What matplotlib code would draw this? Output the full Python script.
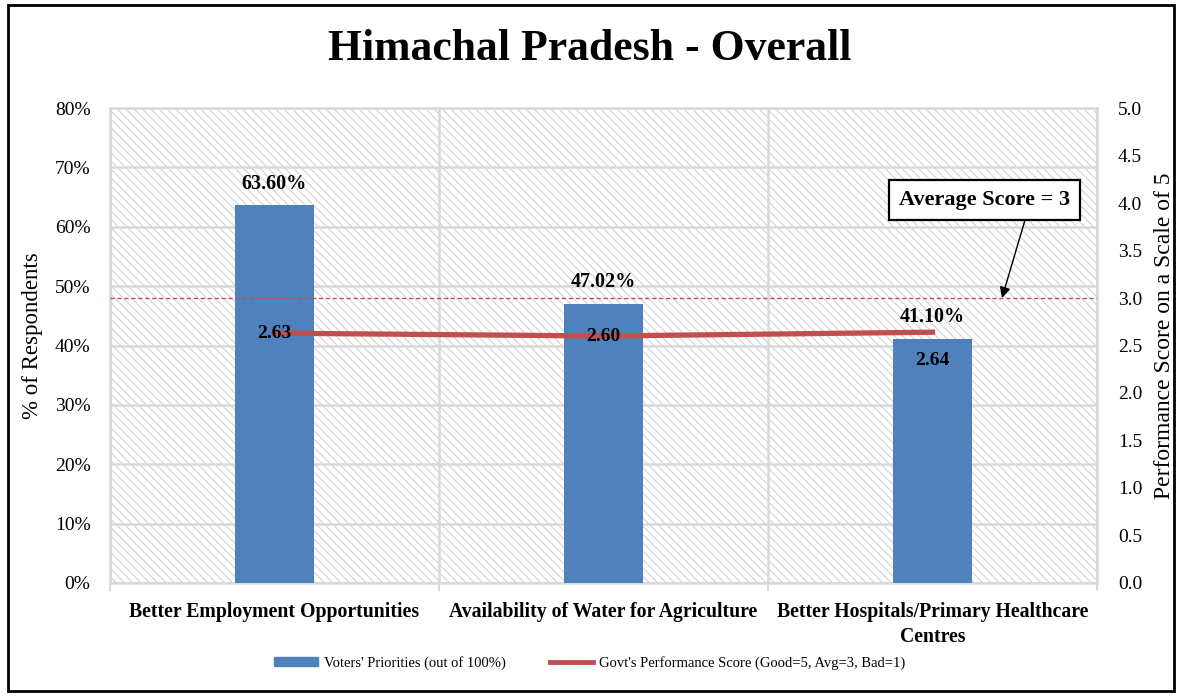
import matplotlib.pyplot as plt
import numpy as np
from matplotlib.patches import Rectangle
from matplotlib.lines import Line2D
from matplotlib.patches import Patch

categories = ['Better Employment Opportunities',
              'Availability of Water for Agriculture',
              'Better Hospitals/Primary Healthcare\nCentres']
priorities = [63.60, 47.02, 41.10]
scores = [2.63, 2.60, 2.64]
avg_score = 3.0

plt.rcParams['font.family'] = ['Liberation Serif', 'DejaVu Serif']
plt.rcParams['hatch.color'] = '#d2d2d2'
plt.rcParams['hatch.linewidth'] = 0.8

fig = plt.figure(figsize=(11.8, 6.97), dpi=100)
ax = fig.add_axes([0.0932, 0.1636, 0.8365, 0.6814])
ax2 = ax.twinx()

x = np.arange(len(categories))
blue = '#4f81bd'
red = '#c0504d'
grid = '#d9d9d9'

# hatched background
ax.add_patch(Rectangle((0, 0), 1, 1, transform=ax.transAxes, facecolor='white',
                       edgecolor='#d2d2d2', hatch='\\\\\\\\', lw=0, zorder=0))
ax.bar(x, priorities, width=0.24, color=blue, zorder=3)
for xi, v in zip(x, priorities):
    ax.text(xi, v + 2.0, '%.2f%%' % v, ha='center', va='bottom',
            fontsize=14.5, fontweight='bold', zorder=5)

ax.set_xlim(-0.5, 2.5)
ax.set_ylim(0, 80)
ax.set_yticks(np.arange(0, 81, 10))
ax.set_yticklabels(['%d%%' % v for v in range(0, 81, 10)], fontsize=14)
ax.set_xticks(x)
ax.set_xticklabels(categories, fontsize=14.2, fontweight='bold', linespacing=1.3)
ax.tick_params(axis='x', length=0, pad=14)
ax.tick_params(axis='y', length=0, pad=14)
ax.set_xticks([-0.5, 0.5, 1.5, 2.5], minor=True)
ax.tick_params(axis='x', which='minor', length=6, width=1.5, color=grid)
ax.grid(axis='y', color=grid, lw=1.8, zorder=1)
ax.grid(axis='x', which='minor', color=grid, lw=1.8, zorder=1)
ax.set_axisbelow(True)
for s in ax.spines.values():
    s.set_color(grid)
    s.set_linewidth(1.8)
for s in ax2.spines.values():
    s.set_visible(False)
ax.set_ylabel('% of Respondents', fontsize=16.5, ha='center', va='center')
ax.yaxis.set_label_coords(-0.078, 0.52)

ax2.plot(x, scores, color=red, lw=3.8, zorder=4)
offsets = [0, 0, -0.3]
for xi, v, o in zip(x, scores, offsets):
    ax2.text(xi, v + o, '%.2f' % v, ha='center', va='center',
             fontsize=14, fontweight='bold', zorder=6)
ax2.axhline(avg_score, color=red, lw=1, ls=(0, (3, 2)), zorder=4)
ax2.set_ylim(0, 5)
ax2.set_yticks(np.arange(0, 5.01, 0.5))
ax2.set_yticklabels(['%.1f' % v for v in np.arange(0, 5.01, 0.5)], fontsize=14)
ax2.tick_params(axis='y', length=0, pad=15)
ax2.set_ylabel('Performance Score on a Scale of 5', fontsize=17, ha='center', va='center')
ax2.yaxis.set_label_coords(1.068, 0.52)

ax2.text(2.159, 4.03, 'Average Score = 3', ha='center', va='center',
         fontsize=16, fontweight='bold', zorder=7,
         bbox=dict(boxstyle='square,pad=0.45', fc='white', ec='black', lw=1.6))
ax2.annotate('', xy=(2.211, avg_score), xytext=(2.281, 3.82),
             arrowprops=dict(arrowstyle='-|>', color='black', lw=1,
                             mutation_scale=16, shrinkA=0, shrinkB=0), zorder=7)

fig.text(0.5, 0.93, 'Himachal Pradesh - Overall', ha='center', va='center',
         fontsize=31.5, fontweight='bold')

handles = [Patch(color=blue), Line2D([0], [0], color=red, lw=3.5)]
labels = ["Voters' Priorities (out of 100%)",
          "Govt's Performance Score (Good=5, Avg=3, Bad=1)"]
fig.legend(handles, labels, loc='center', bbox_to_anchor=(0.5, 0.049), ncol=2,
           frameon=False, fontsize=10.5, handlelength=3, handleheight=0.6,
           handletextpad=0.4, columnspacing=3)

fig.add_artist(Rectangle((0.007, 0.008), 0.988, 0.985, transform=fig.transFigure,
                         fill=False, ec='black', lw=2))

fig.savefig('out.png', dpi=100)
